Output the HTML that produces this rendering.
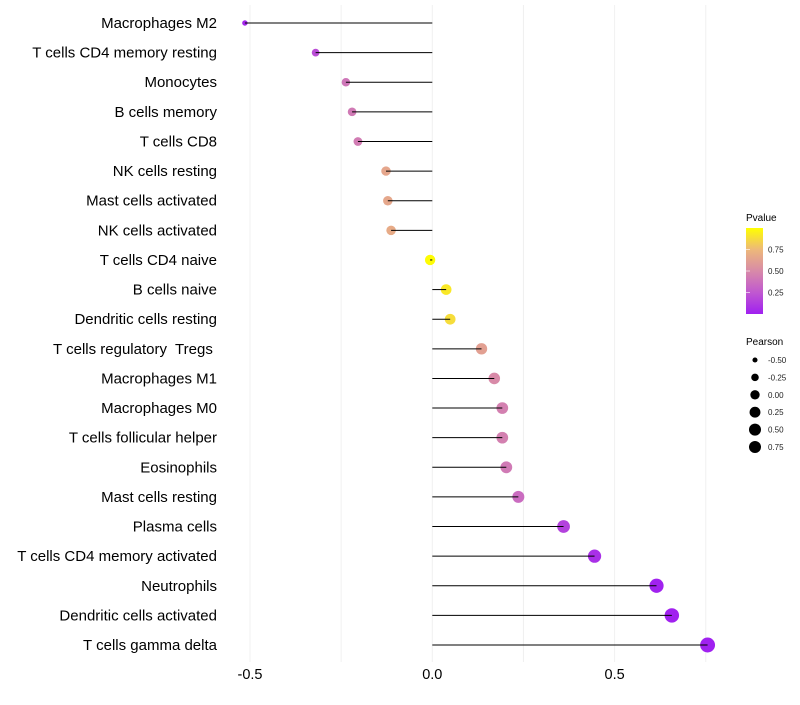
<!DOCTYPE html>
<html><head><meta charset="utf-8"><style>
body{margin:0;background:#fff;font-family:"Liberation Sans",sans-serif}
svg text{font-family:"Liberation Sans",sans-serif;white-space:pre}
</style></head><body>
<svg id="chart" width="800" height="700" xmlns="http://www.w3.org/2000/svg">
<defs><linearGradient id="pg" x1="0" y1="1" x2="0" y2="0">
<stop offset="0" stop-color="#A020F0"/><stop offset="0.25" stop-color="#C058D0"/><stop offset="0.5" stop-color="#D88AA8"/><stop offset="0.75" stop-color="#EDB87A"/><stop offset="1" stop-color="#FFFF00"/></linearGradient></defs>
<g id="grid"></g>
<g id="marks"></g>
<g id="ylab"></g>
<g id="xlab"></g>
<g>
<text x="746" y="221" font-size="10" fill="#000">Pvalue</text>
<rect x="746" y="228" width="17" height="86" fill="url(#pg)"/>
<g id="cbticks"></g>
</g>
<g id="sizeleg">
<text x="746" y="345" font-size="10" fill="#000">Pearson</text>
</g>
</svg>
<script>
const categories=["Macrophages M2","T cells CD4 memory resting","Monocytes","B cells memory","T cells CD8","NK cells resting","Mast cells activated","NK cells activated","T cells CD4 naive","B cells naive","Dendritic cells resting","T cells regulatory  Tregs ","Macrophages M1","Macrophages M0","T cells follicular helper","Eosinophils","Mast cells resting","Plasma cells","T cells CD4 memory activated","Neutrophils","Dendritic cells activated","T cells gamma delta"];
const pearson=[-0.514,-0.32,-0.237,-0.22,-0.204,-0.127,-0.122,-0.113,-0.006,0.038,0.049,0.135,0.17,0.192,0.192,0.203,0.236,0.36,0.445,0.615,0.657,0.755];
const pvalues=[0.03,0.2,0.4,0.42,0.43,0.65,0.66,0.68,0.99,0.92,0.88,0.62,0.5,0.45,0.45,0.42,0.35,0.15,0.07,0.01,0.005,0.003];
const xTicks=[-0.5,0,0.5];
const xTickLabels=["-0.5","0.0","0.5"];
const minorTicks=[-0.25,0.25,0.75];
const pTicks=[0.25,0.5,0.75];
const pTickLabels=["0.25","0.50","0.75"];
const sizeLegendVals=[-0.5,-0.25,0,0.25,0.5,0.75];
const sizeLegendLabels=["-0.50","-0.25","0.00","0.25","0.50","0.75"];

const NS="http://www.w3.org/2000/svg";
const x=v=>432.3+v*364.6;
const y=i=>23+i*29.62;
const rad=v=>Math.sqrt(Math.max(2.5,27+38*v));
const stops=[[0,[160,32,240]],[0.25,[192,88,208]],[0.5,[216,138,168]],[0.75,[237,184,122]],[1,[255,255,0]]];
function col(p){p=Math.max(0,Math.min(1,p));for(let k=1;k<stops.length;k++){if(p<=stops[k][0]){const a=stops[k-1],b=stops[k],t=(p-a[0])/(b[0]-a[0]);return "rgb("+a[1].map((c,j)=>Math.round(c+(b[1][j]-c)*t)).join(",")+")";}}return "rgb(255,255,0)";}
function mk(tag,attrs,parent){const e=document.createElementNS(NS,tag);for(const k in attrs)e.setAttribute(k,attrs[k]);document.getElementById(parent).appendChild(e);return e;}
xTicks.concat(minorTicks).forEach(v=>{
 const l=mk("line",{x1:x(v),x2:x(v),y1:5,y2:662,stroke:"#f0f0f0","stroke-width":1},"grid");
 
 
});
xTicks.forEach((v,i)=>{
 const t=mk("text",{x:x(v),y:679,"text-anchor":"middle","font-size":14.5,fill:"#000"},"xlab");t.textContent=xTickLabels[i];
 
 
});
categories.forEach((c,i)=>{
 const t=mk("text",{x:217,y:y(i)+5,"text-anchor":"end","font-size":15,fill:"#000"},"ylab");t.textContent=c;
 
 
 const p=mk("circle",{cx:x(pearson[i]),cy:y(i),r:rad(pearson[i]),fill:col(pvalues[i])},"marks");
 
 
 const l=mk("line",{x1:x(0),x2:x(pearson[i]),y1:y(i),y2:y(i),stroke:"#000","stroke-width":1},"marks");
 
 
});
pTicks.forEach((p,i)=>{
 const yy=314-p*86;
 const l=mk("line",{x1:746,x2:750,y1:yy,y2:yy,stroke:"#fff","stroke-opacity":0.6},"cbticks");
 
 
 const t=mk("text",{x:768,y:yy+3,"font-size":8,fill:"#222"},"cbticks");t.textContent=pTickLabels[i];
 
 
});
sizeLegendVals.forEach((v,i)=>{
 const yy=360+i*17.4;
 const c=mk("circle",{cx:755,cy:yy,r:Math.min(6,rad(v)*0.9),fill:"#000"},"sizeleg");
 
 
 const t=mk("text",{x:768,y:yy+3,"font-size":8,fill:"#222"},"sizeleg");t.textContent=sizeLegendLabels[i];
 
 
});
</script>
</body></html>
